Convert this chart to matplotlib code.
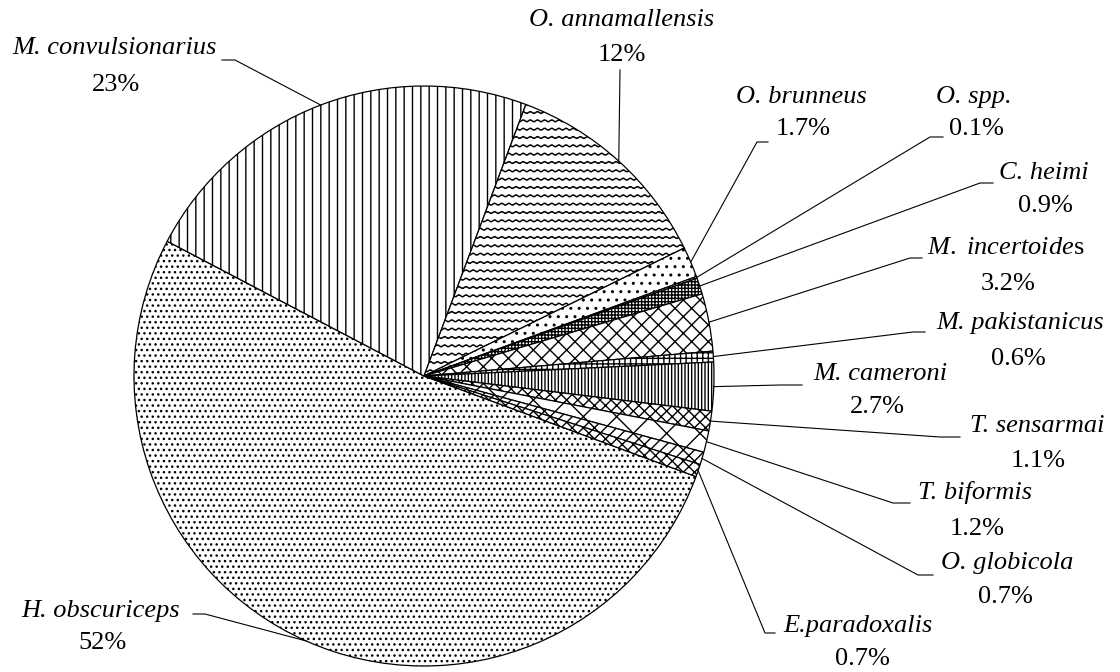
import warnings
import numpy as np
import matplotlib
matplotlib.use("Agg")
import matplotlib.pyplot as plt
import matplotlib.hatch as mhatch
from matplotlib.path import Path

warnings.filterwarnings("ignore")

# data, clockwise from the big slice
species = ['H. obscuriceps', 'M. convulsionarius', 'O. annamallensis', 'O. brunneus',
           'O. spp.', 'C. heimi', 'M. incertoides', 'M. pakistanicus', 'M. cameroni',
           'T. sensarmai', 'T. biformis', 'O. globicola', 'E.paradoxalis']
percents = [52, 23, 12, 1.7, 0.1, 0.9, 3.2, 0.6, 2.7, 1.1, 1.2, 0.7, 0.7]
pct_labels = ['52%', '23%', '12%', '1.7%', '0.1%', '0.9%', '3.2%', '0.6%', '2.7%',
              '1.1%', '1.2%', '0.7%', '0.7%']

hatches = ['...', '||', '~~', '..', '....', '+++++', 'xx', '+++', '|||||',
           'xxx', 'x', '//x', 'xxx']

# label layout in pixels (y from top): name centre, pct centre, elbow, end of short tick
name_pos = [(101, 611), (114, 48), (622, 20), (801, 97), (974, 97), (1044, 173),
            (1006, 248), (1020, 323), (880, 374), (1037, 426), (975, 493),
            (1007, 563), (858, 626)]
pct_pos = [(102, 643), (116, 85), (622, 55), (803, 129), (976, 129), (1045, 206),
           (1008, 284), (1018, 359), (877, 407), (1038, 461), (977, 529),
           (1005, 597), (862, 659)]
elbow = [(205, 614), (235, 60), (620, 70), (757, 142), (930, 137), (980, 183),
         (910, 258), (913, 332), (780, 385), (940, 437), (893, 503), (918, 575),
         (765, 633)]
tick_end = [193, 222, None, 768, 943, 993, 922, 925, 802, 960, 910, 933, 775]

W, H = 1120, 672
cx, cy, R = 424, 376, 290


class WavyHatch(mhatch.HatchPatternBase):
    # horizontal wavy lines, drawn for '~'
    def __init__(self, hatch, density):
        self.num_lines = int(hatch.count('~') * density)
        self.waves = 14
        self.n_pts = self.waves * 6 + 1
        self.num_vertices = self.num_lines * self.n_pts

    def set_vertices_and_codes(self, vertices, codes):
        xs = np.linspace(0, 1, self.n_pts)
        amp = 0.01
        for i in range(self.num_lines):
            y = (i + 0.5) / self.num_lines
            s = slice(i * self.n_pts, (i + 1) * self.n_pts)
            vertices[s, 0] = xs
            vertices[s, 1] = y + amp * np.sin(2 * np.pi * self.waves * xs)
            codes[s] = Path.LINETO
            codes[i * self.n_pts] = Path.MOVETO


mhatch._hatch_types.append(WavyHatch)

plt.rcParams['hatch.linewidth'] = 1.0
plt.rcParams['mathtext.fontset'] = 'custom'
plt.rcParams['mathtext.it'] = 'Liberation Serif:italic'
plt.rcParams['mathtext.rm'] = 'Liberation Serif'

fig = plt.figure(figsize=(W / 100, H / 100), dpi=100)
ax = fig.add_axes([0, 0, 1, 1])

wedges, _ = ax.pie(percents, colors=['white'] * len(percents), startangle=-20.3,
                   counterclock=False, center=(cx, H - cy), radius=R, hatch=hatches,
                   wedgeprops=dict(edgecolor='black', linewidth=0.9))

ax.set_xlim(0, W)
ax.set_ylim(0, H)
ax.set_aspect('equal')
ax.axis('off')

font = 'Liberation Serif'
fs = 19
for i, w in enumerate(wedges):
    mid = np.deg2rad((w.theta1 + w.theta2) / 2)
    x0 = cx + R * np.cos(mid)
    y0 = (H - cy) + R * np.sin(mid)
    ex, ey = elbow[i]
    xs = [x0, ex]
    ys = [y0, H - ey]
    if tick_end[i] is not None:
        xs.append(tick_end[i])
        ys.append(H - ey)
    ax.plot(xs, ys, color='black', lw=0.8)

    name = species[i]
    nx, ny = name_pos[i]
    if name == 'M. incertoides':
        ax.text(nx, H - ny, r'$\mathit{M.}$ $\mathit{incertoide}$s', fontsize=fs,
                family=font, ha='center', va='center')
    else:
        ax.text(nx, H - ny, name, fontsize=fs, family=font, style='italic',
                ha='center', va='center')
    px, py = pct_pos[i]
    ax.text(px, H - py, pct_labels[i], fontsize=fs, family=font,
            ha='center', va='center')

fig.savefig('out.png', dpi=100, facecolor='white')
